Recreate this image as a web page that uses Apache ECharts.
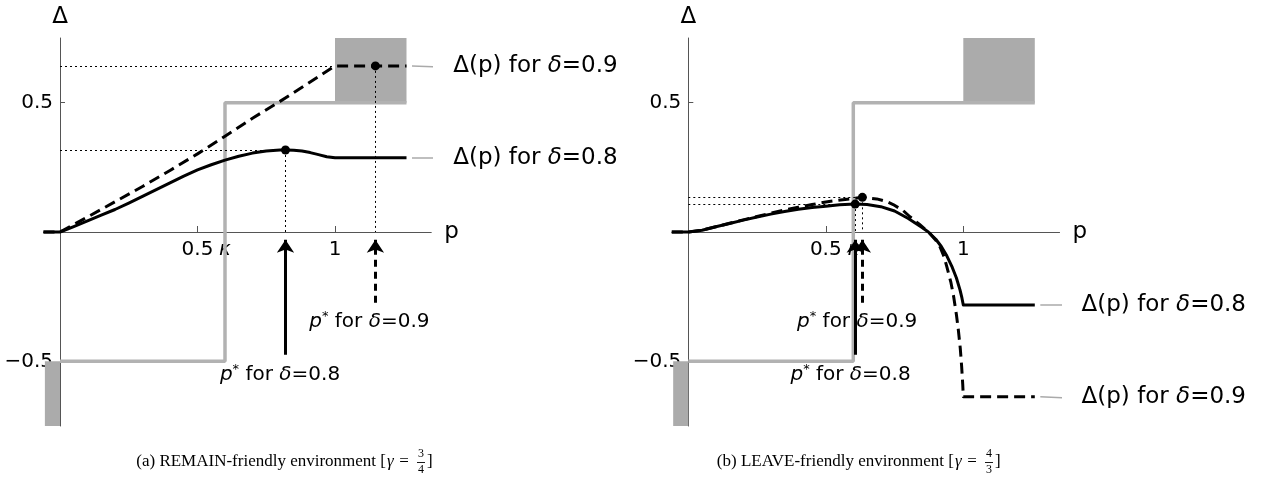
<!DOCTYPE html>
<html><head><meta charset="utf-8">
<script src="https://cdn.jsdelivr.net/npm/echarts@6/dist/echarts.min.js"></script>
<style>html,body{margin:0;padding:0;background:#fff}#c{width:1268px;height:503px}</style>
</head><body><div id="c"></div>
<script>
// ---------- data ----------
const xTickValues = [0.5, 1];
const xLabelValues = [0.5, 0.6, 1];
const yTickValues = [-0.5, 0.5];
const stepCurve = [[0, -0.5], [0.6, -0.5], [0.6, 0.5], [1.26, 0.5]];
const upperBox = [[1, 0.5], [1.26, 0.75]];
const lowerBox = [[-0.055, -0.75], [0, -0.5]];

// panel (a) REMAIN-friendly, gamma = 3/4
const remainD08 = [[-0.06,0],[0,0],[0.05,0.021],[0.1,0.043],[0.15,0.065],[0.2,0.087],[0.25,0.112],[0.3,0.138],[0.35,0.164],[0.4,0.19],[0.45,0.216],[0.5,0.24],[0.55,0.26],[0.6,0.278],[0.65,0.293],[0.7,0.305],[0.75,0.313],[0.8,0.317],[0.82,0.317],[0.85,0.316],[0.88,0.313],[0.91,0.307],[0.94,0.299],[0.97,0.291],[1,0.287],[1.26,0.287]];
const remainD09 = [[-0.06,0],[0,0],[0.1,0.058],[0.2,0.117],[0.3,0.176],[0.4,0.238],[0.5,0.302],[0.6,0.37],[0.7,0.44],[0.8,0.505],[0.9,0.573],[1,0.642],[1.26,0.642]];
const remainPeak08 = [0.82, 0.317];
const remainPeak09 = [1.147, 0.642];

// panel (b) LEAVE-friendly, gamma = 4/3
const leaveD08 = [[-0.06,0],[0,0],[0.05,0.007],[0.1,0.02],[0.15,0.033],[0.2,0.046],[0.25,0.058],[0.3,0.069],[0.35,0.079],[0.4,0.088],[0.45,0.095],[0.5,0.1],[0.55,0.105],[0.607,0.108],[0.65,0.106],[0.7,0.098],[0.75,0.081],[0.8,0.052],[0.85,0.017],[0.873,0],[0.9,-0.028],[0.92,-0.056],[0.94,-0.092],[0.96,-0.137],[0.975,-0.178],[0.988,-0.224],[0.995,-0.255],[1,-0.282],[1.26,-0.282]];
const leaveD09 = [[-0.06,0],[0,0],[0.05,0.007],[0.1,0.02],[0.15,0.034],[0.2,0.047],[0.25,0.06],[0.3,0.073],[0.35,0.085],[0.4,0.096],[0.45,0.106],[0.5,0.116],[0.57,0.126],[0.633,0.134],[0.685,0.128],[0.72,0.118],[0.745,0.106],[0.78,0.084],[0.806,0.059],[0.84,0.03],[0.873,0],[0.9,-0.032],[0.915,-0.057],[0.93,-0.095],[0.94,-0.134],[0.955,-0.195],[0.965,-0.25],[0.975,-0.32],[0.982,-0.379],[0.989,-0.45],[0.994,-0.52],[0.998,-0.59],[1,-0.637],[1.26,-0.637]];
const leavePeak08 = [0.607, 0.108];
const leavePeak09 = [0.633, 0.134];

// annotation texts
const curveLabel08 = 'Δ(p) for δ=0.8';
const curveLabel09 = 'Δ(p) for δ=0.9';
const starLabel08 = 'p* for δ=0.8';
const starLabel09 = 'p* for δ=0.9';
const captionA = ['(a) REMAIN-friendly environment [', 'γ', ' = ', '3', '4', ']'];
const captionB = ['(b) LEAVE-friendly environment [', 'γ', ' = ', '4', '3', ']'];

// ---------- chart ----------
const SANS = 'DejaVu Sans';
const X_MIN = -0.06, X_MAX = 1.35, Y_MIN = -0.75, Y_MAX = 0.75;
const GRID_W = 387.75, GRID_H = 388;
const chart = echarts.init(document.getElementById('c'), null, {renderer: 'canvas'});

function xAxisFor(i) {
  return {
    type: 'value', gridIndex: i, min: X_MIN, max: X_MAX, position: 'bottom',
    offset: -GRID_H * (0 - Y_MIN) / (Y_MAX - Y_MIN),
    splitLine: {show: false},
    axisLine: {onZero: false, lineStyle: {color: '#555', width: 1}},
    axisTick: {show: true, inside: true, length: 6, customValues: xTickValues, lineStyle: {color: '#555'}},
    axisLabel: {
      customValues: xLabelValues, margin: 8, color: '#000', fontFamily: SANS, fontSize: 20,
      formatter: v => Math.abs(v - 0.6) < 1e-6 ? '{k|κ}' : (v === 1 ? '1' : '0.5'),
      rich: {k: {fontStyle: 'italic', fontFamily: SANS, fontSize: 20, color: '#000'}}
    },
    name: 'p', nameLocation: 'end', nameGap: 13,
    nameTextStyle: {fontFamily: SANS, fontSize: 23, color: '#000', verticalAlign: 'middle'}
  };
}
function yAxisFor(i) {
  return {
    type: 'value', gridIndex: i, min: Y_MIN, max: Y_MAX, position: 'left',
    offset: -GRID_W * (0 - X_MIN) / (X_MAX - X_MIN),
    splitLine: {show: false},
    axisLine: {onZero: false, lineStyle: {color: '#555', width: 1}},
    axisTick: {show: true, inside: true, length: 5, customValues: yTickValues, lineStyle: {color: '#555'}},
    axisLabel: {
      customValues: yTickValues, margin: 7, color: '#000', fontFamily: SANS, fontSize: 20,
      formatter: v => v < 0 ? '−0.5' : '0.5'
    },
    name: 'Δ', nameLocation: 'end', nameGap: 9,
    nameTextStyle: {fontFamily: SANS, fontSize: 23, color: '#000', align: 'center'}
  };
}

const starRich = {
  i: {fontStyle: 'italic', fontFamily: SANS, fontSize: 20, color: '#000', lineHeight: 24},
  s: {fontFamily: SANS, fontSize: 13, color: '#000', verticalAlign: 'top', lineHeight: 24},
  n: {fontFamily: SANS, fontSize: 20, color: '#000', lineHeight: 24}
};
const curveRich = {
  i: {fontStyle: 'italic', fontFamily: SANS, fontSize: 23, color: '#000'},
  n: {fontFamily: SANS, fontSize: 23, color: '#000'}
};
function starText(s) {
  const tail = s.split('δ')[1];
  return '{i|p}{s|*}{n| for }{i|δ}{n|' + tail + '}';
}
function curveText(s) {
  const parts = s.split('δ');
  return '{n|' + parts[0] + '}{i|δ}{n|' + parts[1] + '}';
}

function panelSeries(i, d08, d09, peak08, peak09, labelPos) {
  const ax = {xAxisIndex: i, yAxisIndex: i};
  const s = [];
  // gray step function with shaded boxes
  s.push(Object.assign({
    type: 'line', data: stepCurve, showSymbol: false, symbol: 'none', z: 1, silent: true,
    lineStyle: {color: '#b2b2b2', width: 3.5}, clip: false,
    markArea: {silent: true, itemStyle: {color: '#ababab', opacity: 1},
      data: [[{coord: upperBox[0]}, {coord: upperBox[1]}], [{coord: lowerBox[0]}, {coord: lowerBox[1]}]]}
  }, ax));
  // dotted guide lines
  s.push(Object.assign({
    type: 'lines', coordinateSystem: 'cartesian2d', z: 2, silent: true,
    lineStyle: {color: '#000', width: 1, type: [2, 3], opacity: 1},
    data: [
      {coords: [[0, peak08[1]], peak08]}, {coords: [peak08, [peak08[0], 0]]},
      {coords: [[0, peak09[1]], [labelPos.h09end, peak09[1]]]}, {coords: [peak09, [peak09[0], 0]]}
    ]
  }, ax));
  // curves
  s.push(Object.assign({type: 'line', data: d08, showSymbol: false, symbol: 'none', z: 4,
    lineStyle: {color: '#000', width: 3, join: 'round'}}, ax));
  s.push(Object.assign({type: 'line', data: d09, showSymbol: false, symbol: 'none', z: 4,
    lineStyle: {color: '#000', width: 3, type: [11, 6], join: 'round'}}, ax));
  // peak markers
  s.push(Object.assign({type: 'scatter', data: [peak08, peak09], symbolSize: 9, z: 5,
    itemStyle: {color: '#000', opacity: 1}}, ax));
  // arrows
  s.push(Object.assign({
    type: 'lines', coordinateSystem: 'cartesian2d', z: 5, silent: true,
    symbol: ['none', 'arrow'], symbolSize: [9, 13],
    lineStyle: {color: '#000', width: 3, opacity: 1},
    data: [{coords: [[peak08[0], -0.475], [peak08[0], -0.03]]}]
  }, ax));
  s.push(Object.assign({
    type: 'lines', coordinateSystem: 'cartesian2d', z: 5, silent: true,
    symbol: ['none', 'arrow'], symbolSize: [9, 13],
    lineStyle: {color: '#000', width: 3, type: [7, 5], opacity: 1},
    data: [{coords: [[peak09[0], -0.274], [peak09[0], -0.03]]}]
  }, ax));
  // connector lines for curve labels
  s.push(Object.assign({
    type: 'lines', coordinateSystem: 'cartesian2d', z: 3, silent: true,
    lineStyle: {color: '#aaa', width: 1.5, opacity: 1},
    data: [
      {coords: [[1.28, labelPos.c08], [1.418, labelPos.c08]]},
      {coords: [[1.28, labelPos.c09], [1.418, labelPos.c09 - 0.006]]}
    ]
  }, ax));
  // text labels (curve names and p*)
  const lbl = (extra) => Object.assign({show: true, color: '#000', opacity: 1}, extra);
  s.push(Object.assign({
    type: 'scatter', symbolSize: 0, z: 6, clip: false, silent: true,
    itemStyle: {opacity: 1},
    data: [
      {value: [1.43, labelPos.c08], label: lbl({position: 'right', distance: 0, formatter: curveText(curveLabel08), rich: curveRich})},
      {value: [1.43, labelPos.c09], label: lbl({position: 'right', distance: 0, formatter: curveText(curveLabel09), rich: curveRich})},
      {value: [labelPos.s08x, -0.553], label: lbl({position: 'inside', formatter: starText(starLabel08), rich: starRich})},
      {value: [labelPos.s09x, -0.348], label: lbl({position: 'inside', formatter: starText(starLabel09), rich: starRich})}
    ]
  }, ax));
  return s;
}

const series = [].concat(
  panelSeries(0, remainD08, remainD09, remainPeak08, remainPeak09, {h09end: 1, c08: 0.287, c09: 0.642, s08x: 0.8, s09x: 1.125}),
  panelSeries(1, leaveD08, leaveD09, leavePeak08, leavePeak09, {h09end: leavePeak09[0], c08: -0.282, c09: -0.637, s08x: 0.59, s09x: 0.614})
);

function caption(parts, rightX, cx) {
  const f = 'Liberation Serif';
  const y = 462;
  return {
    type: 'group', children: [
      {type: 'text', x: rightX, y: y, style: {text: parts[0], font: '17px "' + f + '"', fill: '#000', align: 'right', verticalAlign: 'middle'}},
      {type: 'text', x: rightX + 1, y: y, style: {text: parts[1], font: 'italic 17px "' + f + '"', fill: '#000', align: 'left', verticalAlign: 'middle'}},
      {type: 'text', x: rightX + 9, y: y, style: {text: parts[2], font: '17px "' + f + '"', fill: '#000', align: 'left', verticalAlign: 'middle'}},
      {type: 'text', x: cx, y: y - 8, style: {text: parts[3], font: '12px "' + f + '"', fill: '#000', align: 'center', verticalAlign: 'middle'}},
      {type: 'line', shape: {x1: cx - 4, y1: y + 0.5, x2: cx + 4, y2: y + 0.5}, style: {stroke: '#000', lineWidth: 0.9}},
      {type: 'text', x: cx, y: y + 8, style: {text: parts[4], font: '12px "' + f + '"', fill: '#000', align: 'center', verticalAlign: 'middle'}},
      {type: 'text', x: cx + 6, y: y, style: {text: parts[5], font: '17px "' + f + '"', fill: '#000', align: 'left', verticalAlign: 'middle'}}
    ]
  };
}

chart.setOption({
  animation: false,
  backgroundColor: '#fff',
  grid: [
    {left: 43.5, top: 38, width: GRID_W, height: GRID_H, containLabel: false, outerBoundsMode: 'none'},
    {left: 671.8, top: 38, width: GRID_W, height: GRID_H, containLabel: false, outerBoundsMode: 'none'}
  ],
  xAxis: [xAxisFor(0), xAxisFor(1)],
  yAxis: [yAxisFor(0), yAxisFor(1)],
  series: series,
  graphic: [caption(captionA, 386, 421), caption(captionB, 954, 989)]
});
</script></body></html>
